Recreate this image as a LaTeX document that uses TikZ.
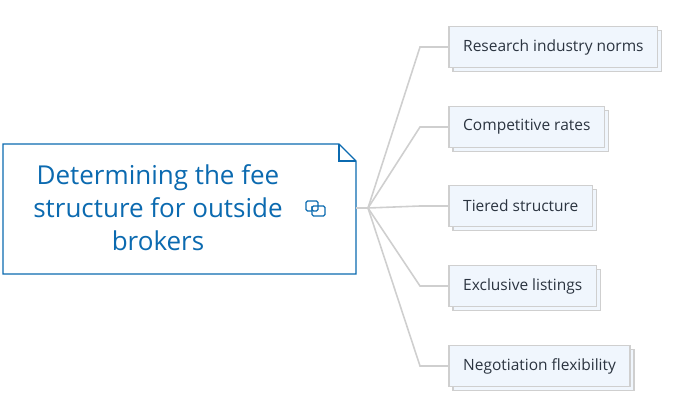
\documentclass[tikz,border=0pt]{standalone}
\usepackage{fontspec}
\setmainfont{Open Sans}
\usetikzlibrary{positioning}
\definecolor{topicblue}{HTML}{0B6AB0}
\definecolor{leaffill}{HTML}{F0F6FD}
\definecolor{leafline}{HTML}{CFCFCF}
\definecolor{leaftext}{HTML}{2B3440}
\tikzset{
  leaf/.style={anchor=west, inner xsep=14pt, minimum height=40pt,
    font=\fontsize{15.5}{18}\selectfont, text=leaftext},
  leafrim/.style={draw=leafline, fill=leaffill, line width=1.2pt},
  branch/.style={draw=leafline, line width=1.6pt},
}
\newcommand\leafbox[3]{%
  \node[leaf, text opacity=0] (#1) at (449,#2) {#3};
  \draw[leafrim] ([shift={(4,4)}]#1.north west) rectangle ([shift={(4,4)}]#1.south east);
  \draw[leafrim] (#1.north west) rectangle (#1.south east);
  \node[leaf] at (449,#2) {#3};
  \coordinate (#1k) at (420,#2);
  \draw[branch] (hub) -- (#1k) -- (#1.west);
}
\begin{document}
\begin{tikzpicture}[x=1pt,y=-1pt]
  \useasboundingbox (0,0) rectangle (690,412);
  % central topic
  \draw[topicblue, fill=white, line width=1.4pt]
    (3,144) -- (339,144) -- (356,161) -- (356,274) -- (3,274) -- cycle;
  \draw[topicblue, line width=1.2pt] (339,144) -- (339,161) -- (356,161);
  \node[text=topicblue, align=center, font=\fontsize{26}{33}\selectfont]
    (topic) at (158,208) {Determining the fee\\structure for outside\\brokers};
  % link icon
  \draw[topicblue, line width=1.1pt, rounded corners=1.5pt]
    (306,201) rectangle (318,211);
  \draw[topicblue, line width=1.1pt, rounded corners=1.5pt, fill=white]
    (312,206) rectangle (325,216);
  \draw[topicblue, line width=1.1pt, rounded corners=1.5pt]
    (312,206) -- (312,211) -- (318,211) -- (318,206);
  \coordinate (hub) at (368,208);
  \draw[branch] (356,208) -- (hub);
  % branches
  \leafbox{norms}{47}{Research industry norms}
  \leafbox{rates}{127}{Competitive rates}
  \leafbox{tiers}{206}{Tiered structure}
  \leafbox{excl}{286}{Exclusive listings}
  \leafbox{nego}{366}{Negotiation flexibility}
\end{tikzpicture}
\end{document}
